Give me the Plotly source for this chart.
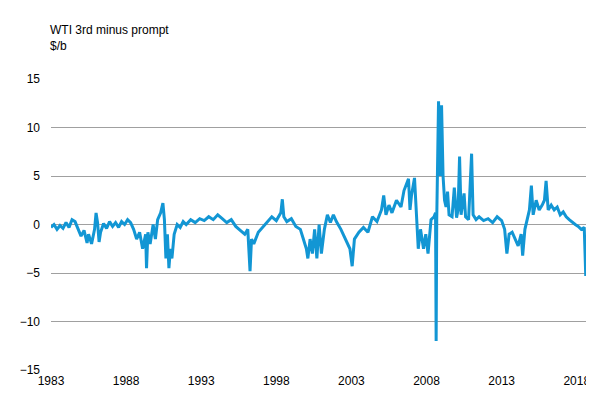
import plotly.graph_objects as go

dates = [1983.0,1983.2,1983.4,1983.6,1983.8,1984.0,1984.2,1984.4,1984.6,1984.8,1985.0,1985.2,1985.4,1985.5,1985.7,1985.9,
1986.0,1986.1,1986.2,1986.3,1986.5,1986.7,1986.9,1987.1,1987.3,1987.5,1987.7,1987.9,1988.1,1988.3,1988.5,1988.7,1988.9,1989.1,1989.3,1989.36,1989.45,1989.6,1989.8,1989.95,
1990.1,1990.3,1990.45,1990.55,1990.65,1990.75,1990.85,1990.95,1991.05,1991.2,1991.4,1991.6,1991.8,1992.0,1992.3,1992.6,1992.9,1993.2,1993.5,1993.8,1994.1,1994.4,1994.7,1995.0,1995.3,1995.6,1995.9,1996.1,1996.25,1996.35,1996.5,1996.8,
1997.1,1997.4,1997.7,1998.0,1998.3,1998.4,1998.5,1998.7,1999.0,1999.3,1999.6,1999.8,2000.0,2000.1,2000.25,2000.4,2000.55,2000.7,2000.85,2001.0,2001.2,2001.4,2001.6,2001.8,2002.0,2002.3,2002.6,2002.9,2003.05,2003.2,2003.5,2003.8,2004.1,2004.4,2004.7,2005.0,2005.15,2005.3,2005.5,2005.7,2006.0,2006.3,2006.5,2006.8,2006.9,2007.0,2007.2,2007.3,2007.45,2007.6,2007.8,2007.95,2008.1,2008.3,2008.5,2008.6,2008.64,2008.68,2008.8,2008.9,2009.0,2009.1,2009.2,2009.3,2009.4,2009.5,2009.7,2009.85,2010.0,2010.1,2010.2,2010.3,2010.4,2010.5,2010.6,2010.8,2011.0,2011.1,2011.3,2011.5,2011.8,2012.1,2012.4,2012.7,2013.0,2013.2,2013.35,2013.5,2013.7,2013.9,2014.1,2014.3,2014.4,2014.55,2014.7,2014.85,2014.98,2015.1,2015.3,2015.5,2015.7,2015.85,2015.96,2016.1,2016.3,2016.5,2016.7,2016.9,2017.1,2017.3,2017.5,2017.7,2017.9,2018.1,2018.3,2018.5,2018.6]
values = [-0.3,0.0,-0.5,-0.1,-0.4,0.2,-0.3,0.5,0.3,-0.5,-1.2,-0.6,-1.9,-1.0,-2.0,-0.5,
1.2,0.2,-1.8,-0.8,0.1,-0.4,0.3,-0.2,0.2,-0.3,0.3,0.0,0.5,0.2,-0.5,-1.5,-0.8,-2.5,-1.0,-4.5,-0.8,-2.0,0.0,-1.5,
0.5,1.2,2.2,0.5,-3.5,-1.0,-4.5,-2.5,-3.5,-1.0,0.0,-0.3,0.3,0.0,0.5,0.2,0.6,0.4,0.8,0.5,1.0,0.6,0.2,0.5,-0.2,-0.6,-1.0,-0.5,-4.8,-1.5,-2.0,-0.8,
-0.3,0.3,0.8,0.4,1.2,2.6,0.8,0.3,0.6,-0.2,-0.5,-1.5,-2.5,-3.5,-1.5,-3.0,-0.5,-3.5,0.0,-3.0,-0.5,1.0,0.2,1.0,0.3,-0.5,-1.5,-2.5,-4.3,-1.5,-0.8,-0.3,-0.8,0.8,0.3,1.5,3.0,1.0,2.0,1.2,2.5,1.8,3.5,4.7,1.5,3.0,4.8,1.5,-2.5,-0.5,-2.5,-1.0,-3.0,0.5,0.8,1.2,-12.0,0.5,12.7,5.0,12.3,5.0,2.5,1.8,3.4,1.0,0.8,3.8,0.7,1.5,7.0,1.0,2.0,3.2,0.8,0.5,7.3,1.0,0.5,0.8,0.4,0.6,0.2,0.8,0.4,-0.5,-3.0,-1.0,-0.8,-1.5,-2.2,-1.0,-3.2,-0.5,0.5,1.5,4.0,1.0,2.5,1.5,2.0,2.5,4.5,1.5,2.0,1.5,1.8,1.0,1.3,0.8,0.5,0.2,0.0,-0.2,-0.5,-0.3,-5.3]

fig = go.Figure(go.Scatter(x=dates, y=values, mode="lines",
    line=dict(color="#1296d4", width=3), hoverinfo="skip"))
fig.update_layout(
    width=594, height=401, margin=dict(l=30, r=14, t=71, b=39),
    paper_bgcolor="white", plot_bgcolor="white", showlegend=False,
    font=dict(family="Liberation Sans, Arial", size=12, color="black"),
    annotations=[dict(text="WTI 3rd minus prompt<br>$/b", xref="paper", yref="paper",
        x=-0.005, y=1.0, yshift=58, xanchor="left", yanchor="top", showarrow=False, align="left")])
fig.update_xaxes(range=[1983, 2018.75], tickvals=[1983,1988,1993,1998,2003,2008,2013,2018],
    showgrid=False, zeroline=False, ticks="", showline=False, ticklabelstandoff=2)
fig.update_yaxes(range=[-15, 15], dtick=5, showgrid=True, gridcolor="#a0a0a0", gridwidth=1,
    zeroline=False, ticks="", showline=False, ticklabelstandoff=10)
fig.write_html("out.html")
